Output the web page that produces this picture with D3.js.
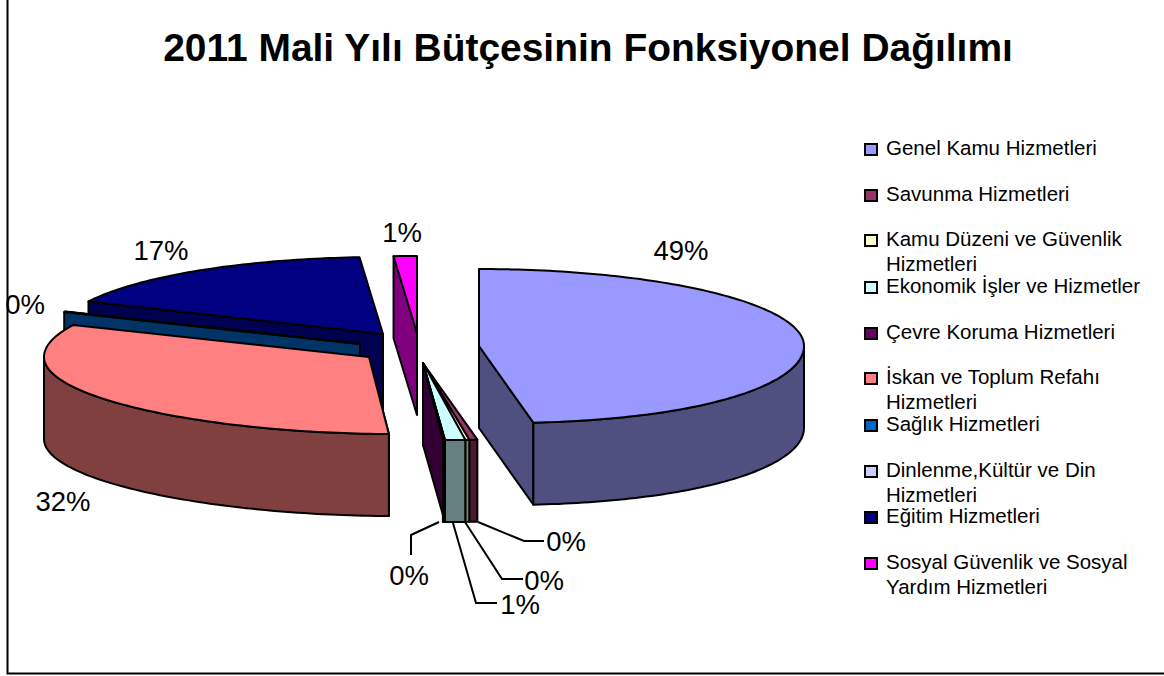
<!DOCTYPE html>
<html lang="tr"><head><meta charset="utf-8">
<script src="https://cdn.jsdelivr.net/npm/d3@7"></script>
<style>html,body{margin:0;padding:0;background:#fff}svg{display:block}text{font-family:"Liberation Sans",Arial,sans-serif;fill:#000}</style>
</head><body><div id="chart"></div>
<script>
const titleText = "2011 Mali Yılı Bütçesinin Fonksiyonel Dağılımı";
const categories = ["Genel Kamu Hizmetleri","Savunma Hizmetleri","Kamu Düzeni ve Güvenlik Hizmetleri","Ekonomik İşler ve Hizmetler","Çevre Koruma Hizmetleri","İskan ve Toplum Refahı Hizmetleri","Sağlık Hizmetleri","Dinlenme,Kültür ve Din Hizmetleri","Eğitim Hizmetleri","Sosyal Güvenlik ve Sosyal Yardım Hizmetleri"];
const values = [48.55,0.4,0.2,1.0,0.1,31.55,0.1,0.05,16.9,1.15];
const legendLines = [["Genel Kamu Hizmetleri"],["Savunma Hizmetleri"],["Kamu Düzeni ve Güvenlik","Hizmetleri"],["Ekonomik İşler ve Hizmetler"],["Çevre Koruma Hizmetleri"],["İskan ve Toplum Refahı","Hizmetleri"],["Sağlık Hizmetleri"],["Dinlenme,Kültür ve Din","Hizmetleri"],["Eğitim Hizmetleri"],["Sosyal Güvenlik ve Sosyal","Yardım Hizmetleri"]];
const topColors = ["#9999ff","#993366","#ffffcc","#ccffff","#660066","#ff8080","#0066cc","#ccccff","#000080","#ff00ff"];
const wallColors = ["#4f4f80","#4d1a33","#808066","#668080","#330033","#804040","#003366","#666680","#000050","#800080"];

// layout
const W=1164,H=676, depth=82, rx=325, ry=77, frontShear=25;
const apexX=[479,423,423,423,423,369,360,360,383,417];
const apexY=[346,363,363,363,363,357,344,344,334,333];
const drawOrder=[9,8,7,6,5,1,2,3,4,0];
const labelPos=[[681,260],[566,551],[544,590],[520,614],[409,585],[63,511],[25,314],null,[161,260],[402,242]];
const leaders=[null,[[478,522],[524,541],[544,541]],[[465,522],[502,579],[523,579]],[[453,523],[476,603],[497,603]],[[439,522],[411,535],[411,555]],null,null,null,null,null];
const legendY=[149,195,240,287,333,378,425,471,517,563];

const svg=d3.select("#chart").append("svg").attr("width",W).attr("height",H);
svg.append("rect").attr("width",W).attr("height",H).attr("fill","#fff");
svg.append("path").attr("d",`M7.5,0V673.5H${W}`).attr("fill","none").attr("stroke","#000").attr("stroke-width",2);
svg.append("text").attr("x",588).attr("y",61).attr("text-anchor","middle").attr("font-size",38.95).attr("font-weight","bold").text(titleText);

const pie=d3.pie().sort(null).value(d=>d)(values);
const sx=d3.scaleLinear().domain([-1,1]).range([-rx,rx]);
const sy=d3.scaleLinear().domain([-1,1]).range([-ry,ry]);
const sFront=d3.scalePow().exponent(2).domain([0,1]).range([0,frontShear]);
function pt(i,a,down=0){
  const c=Math.cos(a), s=Math.sin(a);
  return [apexX[i]+sx(s)+(c<0?sFront(-c):0), apexY[i]+sy(-c)+down];
}
const line=d3.line();
const arcPts=(i,a0,a1,down=0)=>{
  const n=Math.max(2,Math.ceil((a1-a0)/0.02));
  return d3.range(n+1).map(k=>pt(i,a0+(a1-a0)*k/n,down));
};
const g=svg.append("g").attr("stroke","#000").attr("stroke-width",2).attr("stroke-linejoin","round");
drawOrder.forEach(i=>{
  const d=pie[i], a0=d.startAngle, a1=d.endAngle, A=[apexX[i],apexY[i]], Ad=[A[0],A[1]+depth];
  const wall=wallColors[i], top=topColors[i];
  if(Math.sin(a0)<0){const p=pt(i,a0),q=pt(i,a0,depth);g.append("path").attr("fill",wall).attr("d",line([A,p,q,Ad])+"Z");}
  if(Math.sin(a1)>0){const p=pt(i,a1),q=pt(i,a1,depth);g.append("path").attr("fill",wall).attr("d",line([A,p,q,Ad])+"Z");}
  const f0=Math.max(a0,Math.PI/2), f1=Math.min(a1,3*Math.PI/2);
  if(f1>f0){g.append("path").attr("fill",wall).attr("d",line([...arcPts(i,f0,f1),...arcPts(i,f0,f1,depth).reverse()])+"Z");}
  g.append("path").attr("fill",top).attr("d",line([A,...arcPts(i,a0,a1)])+"Z");
});
const lg=svg.append("g").attr("fill","none").attr("stroke","#000").attr("stroke-width",2);
leaders.forEach(l=>{if(l)lg.append("path").attr("d",line(l));});
const fmt=d3.format(".0%");
labelPos.forEach((p,i)=>{if(p)svg.append("text").attr("x",p[0]).attr("y",p[1]).attr("text-anchor","middle").attr("font-size",27.5).text(fmt(values[i]/100));});
categories.forEach((c,i)=>{
  const y=legendY[i];
  svg.append("rect").attr("x",865).attr("y",y-5).attr("width",12).attr("height",11).attr("fill",topColors[i]).attr("stroke","#000").attr("stroke-width",2);
  svg.append("text").attr("x",886).attr("y",y+6).attr("font-size",20.5).selectAll("tspan").data(legendLines[i]).join("tspan").attr("x",886).attr("dy",(d,k)=>k?25:0).text(d=>d);
});
</script></body></html>
